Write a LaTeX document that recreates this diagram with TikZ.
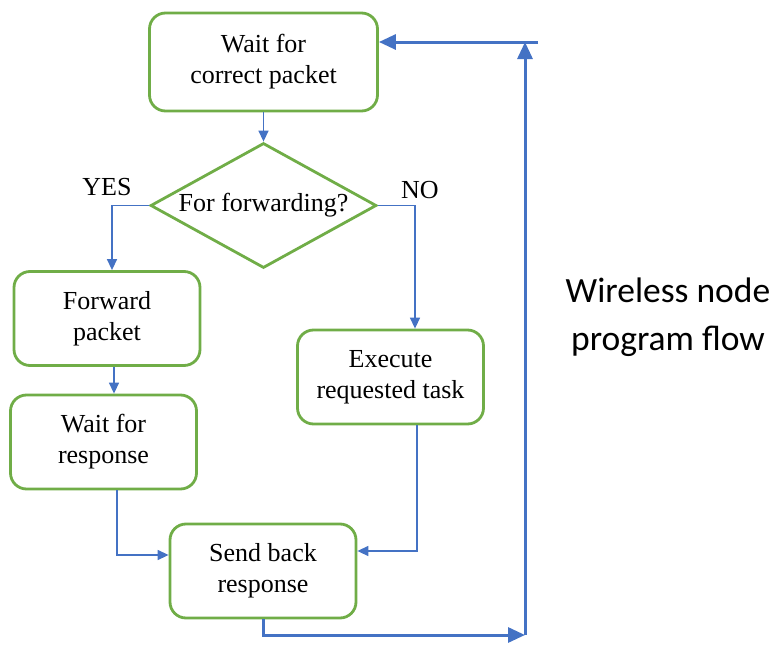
\documentclass[tikz,border=0pt]{standalone}
\usepackage{xcolor}
\usepackage{fontspec}
\setmainfont{Liberation Serif}
\newfontfamily\flowfont{Carlito}
\usepackage{tikz}
\usetikzlibrary{shapes.geometric,arrows.meta,positioning}
\definecolor{boxgreen}{RGB}{112,173,71}
\definecolor{linkblue}{RGB}{68,114,196}

\begin{document}
\begin{tikzpicture}[x=1pt, y=-1pt,
    task/.style={rectangle, draw=boxgreen, line width=2.8pt, rounded corners=16pt, fill=white,
                 minimum width=186pt, minimum height=94pt, align=center, font=\fontsize{26}{31}\selectfont},
    decision/.style={diamond, draw=boxgreen, line width=2.8pt, aspect=1.8, inner sep=0pt,
                     minimum width=226pt, minimum height=125pt, font=\fontsize{26}{31}\selectfont},
    flow/.style={draw=linkblue, line width=1.4pt, -{Triangle[length=11pt,width=10pt]}},
    back/.style={draw=linkblue, line width=3pt, -{Triangle[length=17pt,width=15pt]}},
    answer/.style={font=\fontsize{26}{31}\selectfont}
]
\useasboundingbox (0,0) rectangle (777,645);

% Steps
\node[task, minimum width=228pt, minimum height=98pt] (waitpkt) at (263.5,62) {Wait for\\correct packet};
\node[decision] (fwdq) at (263.5,205.5) {For forwarding?};
\node[task] (fwdpkt) at (107,318.5) {Forward\\packet};
\node[task] (waitresp) at (103.5,442) {Wait for\\response};
\node[task] (exec) at (390.5,377) {Execute\\requested task};
\node[task] (sendback) at (263,571) {Send back\\response};

% Branch labels
\node[answer] (yes) at (107,187) {YES};
\node[answer] (no) at (420,190) {NO};

% Caption
\node[font=\flowfont\fontsize{35.5}{48}\selectfont, align=center] (caption) at (668,317) {Wireless node\\program flow};

% Connections
\draw[flow] (waitpkt.south) -- (fwdq.north);
\draw[flow] (fwdq.west) -| ([xshift=5pt]fwdpkt.north);
\draw[flow] (fwdq.east) -| ([xshift=24.5pt]exec.north);
\draw[flow] ([xshift=7pt]fwdpkt.south) -- ([xshift=7pt]fwdpkt.south |- waitresp.north);
\draw[flow] ([xshift=13.5pt]waitresp.south) |- ([yshift=16pt]sendback.west);
\draw[flow] ([xshift=26.5pt]exec.south) |- ([yshift=20pt]sendback.east);

% Loop back
\coordinate (loopbot) at (525,635);
\coordinate (looptop) at (525,42);
\coordinate (loopin) at (538,42);
\draw[back] (sendback.south) |- (loopbot);
\draw[back] (loopbot) -- (looptop);
\draw[back] (loopin) -- (loopin -| waitpkt.east);

\end{tikzpicture}
\end{document}
